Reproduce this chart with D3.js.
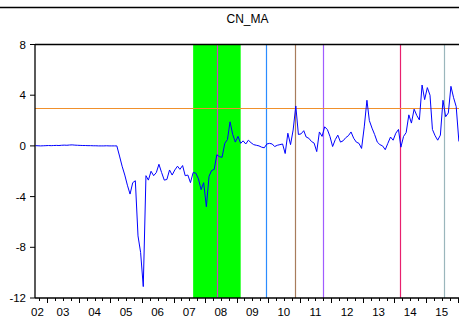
<!DOCTYPE html>
<html>
<head>
<meta charset="utf-8">
<script src="https://cdn.jsdelivr.net/npm/d3@7"></script>
<style>
  html, body { margin: 0; padding: 0; background: #fff; }
  svg { display: block; font-family: Arial, "Liberation Sans", sans-serif; }
</style>
</head>
<body>
<div id="chart"></div>
<script>
// monthly series, first observation 2002M8
const firstObs = [2002, 8];
const cnMa = [
  // 2002 M8-M12
  0.02, 0.01, 0.0, 0.01, 0.02,
  // 2003
  0.03, 0.02, 0.03, 0.04, 0.03, 0.05, 0.06, 0.05, 0.07, 0.08, 0.06, 0.05,
  // 2004
  0.04, 0.03, 0.03, 0.02, 0.02, 0.01, 0.01, 0.0, 0.0, 0.0, 0.01, 0.0,
  // 2005
  0.0, 0.0, 0.0, -0.8, -1.6, -2.3, -3.1, -3.8, -2.9, -2.75, -7.1, -8.4,
  // 2006
  -11.1, -2.35, -2.7, -2.0, -2.35, -2.1, -1.45, -2.1, -2.7, -2.65, -1.9, -2.3,
  // 2007
  -1.9, -1.6, -1.85, -1.55, -2.35, -2.3, -2.9, -2.1, -2.15, -2.6, -3.45, -2.9,
  // 2008
  -4.8, -2.4, -1.95, -1.85, -0.7, -0.85, -0.9, 0.2, 0.5, 1.9, 0.9, 0.3,
  // 2009
  0.75, 0.2, 0.4, 0.15, 0.45, 0.25, 0.1, 0.05, 0.0, -0.1, -0.15, 0.15,
  // 2010
  0.2, 0.15, -0.05, 0.05, 0.1, 0.15, -0.6, 1.0, 0.1, 1.25, 3.15, 0.9,
  // 2011
  0.95, 1.2, 0.7, 0.6, 0.35, 0.22, -0.45, 1.1, 0.75, 1.5, 1.3, 0.75,
  // 2012
  -0.05, 0.5, 0.85, 0.3, 0.4, 0.65, 0.8, 1.1, 0.6, 0.3, 0.2, -0.2,
  // 2013
  1.5, 3.6, 2.0, 1.4, 0.9, 0.3, 0.1, 0.0, -0.3, 0.2, 0.7, 0.45,
  // 2014
  1.0, 1.3, -0.1, 0.75, 1.05, 2.45, 1.8, 2.9, 2.4, 2.05, 4.8, 3.65,
  // 2015
  4.6, 4.0, 1.3, 0.8, 0.45, 0.85, 3.6, 2.3, 2.6, 4.7, 3.8, 3.1,
  // 2016 M1
  0.35
];

const shadeSpan = [[2007, 8], [2009, 2]];
const markerDates = ["2008-05-15", "2009-12-07", "2010-11-07", "2011-10-01", "2014-03-03", "2015-07-25"];
const markerColors = ["#d23cc8", "#2b8cff", "#a87c5c", "#a05cff", "#e8206e", "#9ab6bc"];
const refLevel = 3.0;

const yTicks = [-12, -8, -4, 0, 4, 8];
const yearLabels = ["02", "03", "04", "05", "06", "07", "08", "09", "10", "11", "12", "13", "14", "15"];

const width = 459, height = 324;
const margin = { top: 44.5, right: -1, bottom: 26, left: 35 };
const plotRight = width - margin.right;
const plotBottom = height - margin.bottom;

const svg = d3.select("#chart").append("svg")
  .attr("width", width)
  .attr("height", height);

// observations sit in the middle of their month
const obsDate = (y, m) => new Date(y, m - 1, 16);
const data = cnMa.map((v, i) => {
  const d = d3.timeMonth.offset(new Date(firstObs[0], firstObs[1] - 1, 1), i);
  return { date: obsDate(d.getFullYear(), d.getMonth() + 1), value: v };
});

const x = d3.scaleTime()
  .domain([new Date(2002, 7, 12), new Date(2016, 0, 29)])
  .range([margin.left, plotRight]);
const y = d3.scaleLinear()
  .domain([-12, 8])
  .range([plotBottom, margin.top]);

svg.append("defs").append("clipPath").attr("id", "plot")
  .append("rect")
  .attr("x", margin.left).attr("y", margin.top)
  .attr("width", plotRight - margin.left).attr("height", plotBottom - margin.top);

const plot = svg.append("g").attr("clip-path", "url(#plot)");

// shaded period
plot.append("rect")
  .attr("x", x(obsDate(...shadeSpan[0])))
  .attr("y", margin.top)
  .attr("width", x(obsDate(...shadeSpan[1])) - x(obsDate(...shadeSpan[0])))
  .attr("height", plotBottom - margin.top)
  .attr("fill", "#00ff00");

// event markers
plot.selectAll("line.marker")
  .data(markerDates)
  .join("line")
  .attr("class", "marker")
  .attr("x1", d => Math.round(x(new Date(d))) + 0.5)
  .attr("x2", d => Math.round(x(new Date(d))) + 0.5)
  .attr("y1", margin.top)
  .attr("y2", plotBottom)
  .attr("stroke", (d, i) => markerColors[i])
  .attr("stroke-width", 1.2);

// reference level
plot.append("line")
  .attr("x1", margin.left).attr("x2", plotRight)
  .attr("y1", Math.round(y(refLevel)) + 0.5).attr("y2", Math.round(y(refLevel)) + 0.5)
  .attr("stroke", "#f0902c")
  .attr("stroke-width", 1);

plot.append("path")
  .datum(data)
  .attr("fill", "none")
  .attr("stroke", "#0000ff")
  .attr("stroke-width", 1)
  .attr("d", d3.line().x(d => x(d.date)).y(d => y(d.value)));

// frame
const frame = svg.append("g").attr("stroke", "#000").attr("fill", "none");
frame.append("line")
  .attr("x1", margin.left).attr("x2", width)
  .attr("y1", margin.top).attr("y2", margin.top)
  .attr("stroke-width", 1.3);
frame.append("line")
  .attr("x1", margin.left).attr("x2", width)
  .attr("y1", plotBottom).attr("y2", plotBottom)
  .attr("stroke-width", 1.3);
frame.append("line")
  .attr("x1", margin.left).attr("x2", margin.left)
  .attr("y1", margin.top).attr("y2", plotBottom)
  .attr("stroke-width", 1.3);

// border of the outer figure, cut by the window
svg.append("line")
  .attr("x1", 0).attr("x2", width)
  .attr("y1", 7.5).attr("y2", 7.5)
  .attr("stroke", "#000")
  .attr("stroke-width", 1.7);

// y axis
const yAxis = svg.append("g");
yAxis.selectAll("line")
  .data(yTicks)
  .join("line")
  .attr("x1", margin.left - 5).attr("x2", margin.left)
  .attr("y1", d => y(d)).attr("y2", d => y(d))
  .attr("stroke", "#000");
yAxis.selectAll("text")
  .data(yTicks)
  .join("text")
  .attr("x", margin.left - 9)
  .attr("y", d => y(d))
  .attr("dy", "0.36em")
  .attr("text-anchor", "end")
  .attr("font-size", 11.5)
  .text(d => d);

// x axis: quarterly ticks, longer at year starts
const xAxis = svg.append("g");
xAxis.selectAll("line")
  .data(d3.timeMonth.every(3).range(new Date(2002, 0, 1), new Date(2016, 3, 1)).filter(d => x(d) > margin.left && x(d) <= width))
  .join("line")
  .attr("x1", d => Math.round(x(d)) + 0.5).attr("x2", d => Math.round(x(d)) + 0.5)
  .attr("y1", plotBottom)
  .attr("y2", d => plotBottom + (d.getMonth() === 0 ? 5 : 3))
  .attr("stroke", "#000");
xAxis.selectAll("text")
  .data(yearLabels)
  .join("text")
  .attr("x", d => Math.max(x(new Date(2000 + +d, 6, 1)), margin.left + 2.5))
  .attr("y", plotBottom + 18)
  .attr("text-anchor", "middle")
  .attr("font-size", 11.5)
  .text(d => d);

svg.append("text")
  .attr("x", (margin.left + plotRight) / 2)
  .attr("y", 22.5)
  .attr("text-anchor", "middle")
  .attr("font-size", 12)
  .text("CN_MA");
</script>
</body>
</html>
